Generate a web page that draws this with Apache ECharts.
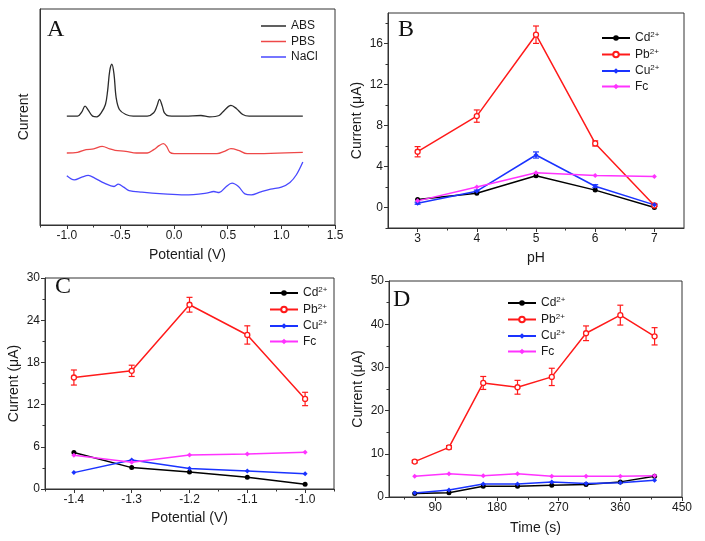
<!DOCTYPE html>
<html>
<head>
<meta charset="utf-8">
<script src="https://cdn.jsdelivr.net/npm/echarts@6/dist/echarts.min.js"></script>
<style>
html,body{margin:0;padding:0;background:#fff;}
#chart{width:705px;height:541px;}
</style>
</head>
<body>
<div id="chart"></div>
<script>
// panel A - voltammograms (arbitrary current units)
var absX = [-1.0,-0.9,-0.86,-0.83,-0.8,-0.76,-0.72,-0.68,-0.64,-0.62,-0.6,-0.58,-0.56,-0.54,-0.51,-0.45,-0.38,-0.25,-0.19,-0.16,-0.136,-0.11,-0.09,-0.05,0.1,0.25,0.33,0.42,0.47,0.53,0.58,0.64,0.7,1.2];
var absY = [32.5,32.5,33.8,35.5,34.3,32.5,32.3,33.5,36,40,46,48,45,38,34.5,33,32.5,32.5,33.5,35.5,37.5,35.5,33.5,32.6,32.5,32.7,32.3,32.7,34.3,35.7,34.8,33,32.5,32.5];
var pbsX = [-1.0,-0.9,-0.82,-0.75,-0.67,-0.6,-0.55,-0.45,-0.35,-0.25,-0.19,-0.14,-0.1,-0.07,-0.04,0.0,0.4,0.47,0.53,0.6,0.68,1.2];
var pbsY = [21.5,21.7,22.5,22.7,23.5,22.7,22.3,22,21.5,21.5,22.5,23.7,24.3,23.5,21.7,21.3,21.3,22,22.8,22.3,21.3,21.7];
var naclX = [-1.0,-0.93,-0.86,-0.8,-0.74,-0.65,-0.56,-0.52,-0.47,-0.42,-0.3,-0.1,0.1,0.3,0.37,0.42,0.48,0.54,0.6,0.66,0.72,0.8,0.9,1.0,1.08,1.14,1.2];
var naclY = [14.7,13.5,14.3,14.8,14,12.5,11.5,12.2,11.3,10.3,9.8,9.3,9,9.5,10,9.7,11.3,12.5,11.5,9.3,9,9.8,10.7,11.3,12.7,15,18.8];

// panel B - pH
var phB = [3,4,5,6,7];
var cdB = [0.78,1.4,3.1,1.7,0];
var pbB = [5.45,8.93,16.88,6.26,0.2];
var pbErrB = [0.5,0.6,0.85,0.25,0.1];
var cuB = [0.42,1.6,5.13,2.08,0.26];
var cuErrB = [0.1,0.1,0.3,0.15,0.1];
var fcB = [0.65,2.0,3.4,3.12,3.02];

// panel C - deposition potential
var potC = [-1.4,-1.3,-1.2,-1.1,-1.0];
var cdC = [5.2,3.04,2.42,1.66,0.66];
var pbC = [15.85,16.8,26.2,21.9,12.8];
var pbErrC = [1.07,0.8,1.05,1.3,0.95];
var cuC = [2.33,4.13,2.9,2.56,2.18];
var fcC = [4.8,3.8,4.84,4.98,5.22];

// panel D - deposition time
var timeD = [60,110,160,210,260,310,360,410];
var cdD = [0.8,1.0,2.5,2.5,2.7,2.9,3.5,4.8];
var pbD = [8.2,11.5,26.4,25.4,27.8,37.9,42.1,37.2];
var pbErrD = [0.3,0.4,1.5,1.6,2.0,1.7,2.3,2.0];
var cuD = [0.9,1.6,3.0,3.0,3.5,3.1,3.3,3.9];
var fcD = [4.8,5.4,4.9,5.4,4.8,4.8,4.8,4.9];

// tick values
var ticksAx = [-1.0,-0.5,0,0.5,1.0,1.5], minorAx = [-1.25,-0.75,-0.25,0.25,0.75,1.25];
var ticksBx = [3,4,5,6,7], minorBx = [3.5,4.5,5.5,6.5];
var ticksBy = [0,4,8,12,16], minorBy = [-2,2,6,10,14,18];
var ticksCx = [-1.4,-1.3,-1.2,-1.1,-1.0], minorCx = [-1.45,-1.35,-1.25,-1.15,-1.05,-0.95];
var ticksCy = [0,6,12,18,24,30], minorCy = [3,9,15,21,27];
var ticksDx = [90,180,270,360,450], minorDx = [45,135,225,315,405];
var ticksDy = [0,10,20,30,40,50], minorDy = [5,15,25,35,45];

var chart = echarts.init(document.getElementById('chart'));

var AX = '#333', TXT = '#1a1a1a';
var FONT = 'Liberation Sans';
var grids = [
  {left:40, top:9, width:295, height:216},
  {left:388, top:13, width:296, height:215},
  {left:45, top:278, width:289, height:211},
  {left:389, top:281, width:293, height:216}
];
grids.forEach(function(g){ g.show = true; g.borderColor = AX; g.borderWidth = 1; g.backgroundColor = 'transparent'; });

function mainAxis(g, min, max, ticks, labels, fmt, name, gap, showLabels){
  return {
    gridIndex:g, type:'value', min:min, max:max,
    axisLine:{onZero:false, lineStyle:{color:AX, width:1}},
    axisTick:{show: ticks.length>0, customValues:ticks, length:4, lineStyle:{color:AX}},
    axisLabel:{show: showLabels, customValues:labels, formatter:fmt, fontSize:12, color:TXT, fontFamily:FONT, margin:5},
    splitLine:{show:false},
    name:name, nameLocation:'middle', nameGap:gap,
    nameTextStyle:{fontSize:14, color:TXT, fontFamily:FONT}
  };
}
function minorAxis(g, min, max, ticks, pos){
  return {
    gridIndex:g, type:'value', min:min, max:max, position:pos,
    axisLine:{show:false, onZero:false},
    axisTick:{customValues:ticks, length:2.5, lineStyle:{color:AX}},
    axisLabel:{show:false}, splitLine:{show:false}
  };
}
function f1(v){ return v.toFixed(1); }
function f0(v){ return String(v); }

var xAxis = [
  mainAxis(0,-1.25,1.5,ticksAx,ticksAx,f1,'Potential (V)',23,true),
  mainAxis(1,2.5,7.5,ticksBx,ticksBx,f0,'pH',23,true),
  mainAxis(2,-1.45,-0.95,ticksCx,ticksCx,f1,'Potential (V)',22,true),
  mainAxis(3,22.5,450,ticksDx,ticksDx,f0,'Time (s)',24,true),
  minorAxis(0,-1.25,1.5,minorAx,'bottom'),
  minorAxis(1,2.5,7.5,minorBx,'bottom'),
  minorAxis(2,-1.45,-0.95,minorCx,'bottom'),
  minorAxis(3,22.5,450,minorDx,'bottom')
];
var yAxis = [
  mainAxis(0,0,64.5,[],[],f0,'Current',9,false),
  mainAxis(1,-2,19,ticksBy,ticksBy,f0,'Current (\u03bcA)',24,true),
  mainAxis(2,0,30,ticksCy,ticksCy,f0,'Current (\u03bcA)',24,true),
  mainAxis(3,0,50,ticksDy,ticksDy,f0,'Current (\u03bcA)',24,true),
  minorAxis(0,0,64.5,[],'left'),
  minorAxis(1,-2,19,minorBy,'left'),
  minorAxis(2,0,30,minorCy,'left'),
  minorAxis(3,0,50,minorDy,'left')
];

function zip(xs, ys){ return xs.map(function(x,i){ return [x, ys[i]]; }); }
function zip3(xs, ys, es){ return xs.map(function(x,i){ return [x, ys[i], es[i]]; }); }

var COL = {cd:'#000000', pb:'#ff1a1a', cu:'#1a33ff', fc:'#ff33ff'};

function lineSeries(g, name, color, data, symbol, empty){
  return {
    type:'line', name:name, xAxisIndex:g, yAxisIndex:g, data:data,
    symbol:symbol, symbolSize:5, showSymbol:true,
    lineStyle:{color:color, width:1.5},
    itemStyle:{color: empty ? '#fff' : color, borderColor:color, borderWidth: empty ? 1.3 : 0},
    animation:false
  };
}
function errorItem(params, api){
  var x = api.value(0), y = api.value(1), e = api.value(2);
  var top = api.coord([x, y + e]), bot = api.coord([x, y - e]);
  var w = 3;
  var st = {stroke: api.visual('color'), lineWidth:1.2};
  return {type:'group', children:[
    {type:'line', shape:{x1:top[0], y1:top[1], x2:bot[0], y2:bot[1]}, style:st},
    {type:'line', shape:{x1:top[0]-w, y1:top[1], x2:top[0]+w, y2:top[1]}, style:st},
    {type:'line', shape:{x1:bot[0]-w, y1:bot[1], x2:bot[0]+w, y2:bot[1]}, style:st}
  ]};
}
function errSeries(g, color, data){
  return {type:'custom', name:'err', xAxisIndex:g, yAxisIndex:g, data:data,
    encode:{x:0, y:1}, renderItem:errorItem, itemStyle:{color:color}, z:3, animation:false, silent:true};
}
function ionSet(g, xs, cd, pb, pbErr, cu, fc){
  return [
    lineSeries(g,'Cd2+',COL.cd,zip(xs,cd),'circle',false),
    lineSeries(g,'Pb2+',COL.pb,zip(xs,pb),'circle',true),
    errSeries(g,COL.pb,zip3(xs,pb,pbErr)),
    lineSeries(g,'Cu2+',COL.cu,zip(xs,cu),'diamond',false),
    lineSeries(g,'Fc',COL.fc,zip(xs,fc),'diamond',false)
  ];
}

var series = [
  {type:'line', name:'ABS', xAxisIndex:0, yAxisIndex:0, data:zip(absX,absY), smooth:0.35, showSymbol:false, symbol:'none', lineStyle:{color:'#2b2b2b', width:1.3}, itemStyle:{color:'#2b2b2b'}, animation:false},
  {type:'line', name:'PBS', xAxisIndex:0, yAxisIndex:0, data:zip(pbsX,pbsY), smooth:0.35, showSymbol:false, symbol:'none', lineStyle:{color:'#ee4848', width:1.3}, itemStyle:{color:'#ee4848'}, animation:false},
  {type:'line', name:'NaCl', xAxisIndex:0, yAxisIndex:0, data:zip(naclX,naclY), smooth:0.35, showSymbol:false, symbol:'none', lineStyle:{color:'#4848ff', width:1.3}, itemStyle:{color:'#4848ff'}, animation:false}
];
series = series.concat(ionSet(1,phB,cdB,pbB,pbErrB,cuB,fcB));
series.push(errSeries(1,COL.cu,zip3(phB,cuB,cuErrB)));
series = series.concat(ionSet(2,potC,cdC,pbC,pbErrC,cuC,fcC));
series = series.concat(ionSet(3,timeD,cdD,pbD,pbErrD,cuD,fcD));

var rich = {
  n:{fontSize:12, color:TXT, fontFamily:FONT, lineHeight:14},
  s:{fontSize:8, color:TXT, fontFamily:FONT, verticalAlign:'top', lineHeight:14, padding:[0,0,6,0]}
};
function ionFmt(name){
  if (name === 'Fc') return '{n|Fc}';
  return '{n|' + name.slice(0,2) + '}{s|2+}';
}
function ionLegend(left, top){
  return {orient:'vertical', left:left, top:top, itemWidth:28, itemHeight:7, itemGap:2.5, padding:0,
    data:['Cd2+','Pb2+','Cu2+','Fc'], formatter:ionFmt, textStyle:{rich:rich}, selectedMode:false};
}

var letterStyle = {fontFamily:'Liberation Serif', fontSize:24, fontWeight:'normal', color:'#111'};

chart.setOption({
  backgroundColor:'#fff',
  animation:false,
  title:[
    {text:'A', left:47, top:18, padding:0, textStyle:letterStyle},
    {text:'B', left:398, top:18, padding:0, textStyle:letterStyle},
    {text:'C', left:55, top:275, padding:0, textStyle:letterStyle},
    {text:'D', left:393, top:288, padding:0, textStyle:letterStyle}
  ],
  legend:[
    {orient:'vertical', left:261, top:20, itemWidth:25, itemHeight:1.5, itemGap:3.5, padding:0,
      data:[{name:'ABS', icon:'rect'},{name:'PBS', icon:'rect'},{name:'NaCl', icon:'rect'}],
      textStyle:{fontSize:12, color:TXT, fontFamily:FONT, lineHeight:12}, selectedMode:false},
    ionLegend(601, 31),
    ionLegend(269, 286),
    ionLegend(507, 296)
  ],
  grid:grids,
  xAxis:xAxis,
  yAxis:yAxis,
  series:series
});
</script>
</body>
</html>
